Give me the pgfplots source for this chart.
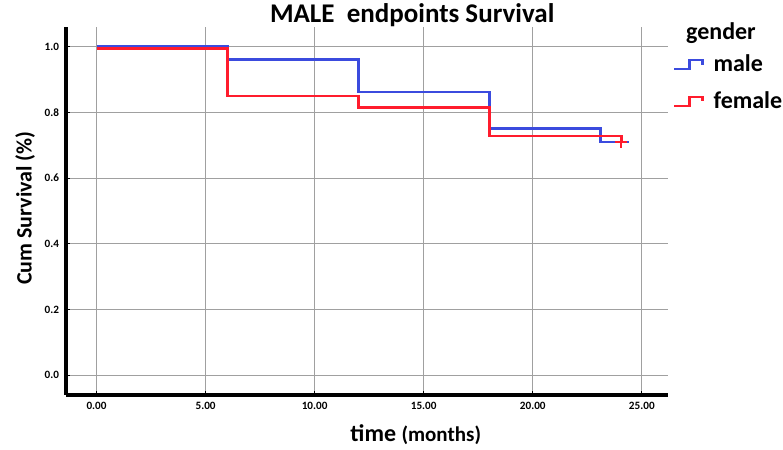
\documentclass[border=0pt]{standalone}
\usepackage{pgfplots}
\pgfplotsset{compat=1.18}
\usepackage{fontspec}
\setmainfont{Carlito}
\definecolor{kmblue}{RGB}{59,75,222}
\definecolor{kmred}{RGB}{255,28,45}
\definecolor{gridgray}{RGB}{160,160,160}

\begin{document}
\begin{tikzpicture}[x=1pt,y=1pt]
\useasboundingbox (-33,-27.5) rectangle (358.5,197.5);
\begin{axis}[
  at={(0,0)}, anchor=south west,
  width=301pt, height=184pt, scale only axis,
  clip=false,
  xmin=-1.4, xmax=26.2, ymin=-0.06, ymax=1.06,
  axis x line*=bottom, axis y line*=left,
  axis line style={-, line width=1.8pt, black},
  xtick={0,5,10,15,20,25}, ytick={0,0.2,0.4,0.6,0.8,1.0},
  grid=major, grid style={gridgray, line width=0.6pt},
  x tick label style={/pgf/number format/.cd, fixed, fixed zerofill, precision=2},
  y tick label style={/pgf/number format/.cd, fixed, fixed zerofill, precision=1},
  ticklabel style={font=\bfseries\fontsize{5.6}{6}\selectfont},
  /pgf/number format/assume math mode=true,
  major tick length=2pt, tick style={black, line width=0.5pt},
  legend style={at={(rel axis cs:1.008,0.937)}, anchor=north west,
    draw=none, fill=none, inner sep=0pt, row sep=4.5pt,
    /tikz/every odd column/.append style={column sep=3pt},
    font=\bfseries\fontsize{12}{14}\selectfont},
  legend cell align=left,
  legend image code/.code={\draw[#1, line width=1.2pt]
    (0pt,-2.2pt) -- (7.5pt,-2.2pt) -- (7.5pt,2.3pt) -- (14pt,2.3pt) -- (14pt,0pt);},
]
% male
\addplot[kmblue, line width=1.4pt, const plot] coordinates {
  (0,1.0) (6,0.96) (12,0.862) (18,0.75) (23.1,0.71) (24.4,0.71)
};
\addlegendentry{male}
% female
\addplot[kmred, line width=1.4pt, const plot] coordinates {
  (0,0.994) (6,0.85) (12,0.815) (18,0.728) (24.05,0.71)
};
\addlegendentry{female}
% censored
\addplot[kmred, only marks, mark=+, mark size=3pt, line width=1.2pt, forget plot]
  coordinates {(24.05,0.71)};

\node[font=\bfseries\fontsize{13.5}{15}\selectfont] at (rel axis cs:0.575,1.033) {MALE\ \ endpoints Survival};
\node[font=\bfseries\fontsize{12}{14}\selectfont] at (rel axis cs:1.088,0.984) {gender};
\node[font=\bfseries\fontsize{11}{13}\selectfont, rotate=90] at (rel axis cs:-0.068,0.508) {Cum Survival (\%)};
\node[font=\bfseries\fontsize{12}{14}\selectfont] at (rel axis cs:0.581,-0.109)
  {time {\fontsize{10.5}{12}\selectfont(months)}};
\end{axis}
\end{tikzpicture}
\end{document}
